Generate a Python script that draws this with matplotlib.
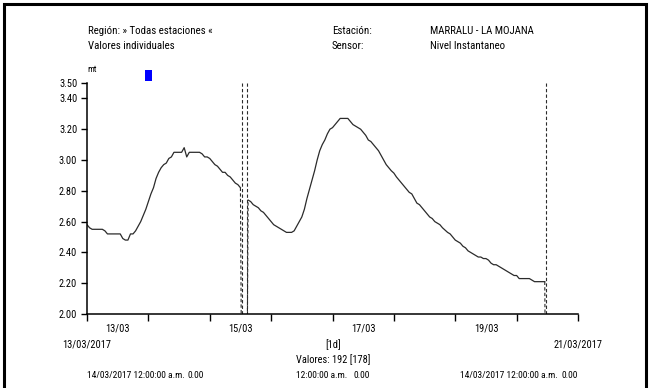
import numpy as np
import matplotlib
matplotlib.use("Agg")
import matplotlib.pyplot as plt
from matplotlib.patches import Rectangle

plt.rcParams['font.family'] = ['Roboto Condensed', 'Liberation Sans', 'DejaVu Sans']

# nivel instantaneo (mt), un valor por hora desde 13/03/2017 00:00, nan = sin dato
nivel = [
    2.58, 2.56, 2.55, 2.55, 2.55, 2.55, 2.55, 2.54, 2.52, 2.52,
    2.52, 2.52, 2.52, 2.52, 2.49, 2.48, 2.48, 2.52, 2.52, 2.54,
    2.57, 2.60, 2.64, 2.68, 2.73, 2.78, 2.82, 2.88, 2.92, 2.95,
    2.97, 2.98, 3.01, 3.02, 3.05, 3.05, 3.05, 3.05, 3.08, 3.02,
    3.05, 3.05, 3.05, 3.05, 3.05, 3.04, 3.02, 3.02, 3.01, 2.99,
    2.97, 2.96, 2.94, 2.92, 2.92, 2.90, 2.89, 2.87, 2.85, 2.84,
    2.82, np.nan, np.nan, 2.74, 2.73, 2.71, 2.70, 2.69, 2.67, 2.66,
    2.64, 2.62, 2.60, 2.58, 2.57, 2.56, 2.55, 2.54, 2.53, 2.53,
    2.53, 2.54, 2.57, 2.60, 2.63, 2.68, 2.75, 2.81, 2.87, 2.93,
    3.00, 3.06, 3.10, 3.13, 3.17, 3.20, 3.21, 3.23, 3.25, 3.27,
    3.27, 3.27, 3.27, 3.25, 3.23, 3.22, 3.21, 3.20, 3.18, 3.16,
    3.13, 3.12, 3.10, 3.08, 3.06, 3.03, 3.00, 2.97, 2.95, 2.93,
    2.915, 2.89, 2.87, 2.85, 2.83, 2.81, 2.79, 2.78, 2.75, 2.72,
    2.71, 2.69, 2.67, 2.65, 2.63, 2.62, 2.60, 2.59, 2.58, 2.56,
    2.545, 2.53, 2.52, 2.50, 2.48, 2.47, 2.46, 2.44, 2.43, 2.41,
    2.40, 2.39, 2.38, 2.37, 2.37, 2.36, 2.36, 2.35, 2.33, 2.32,
    2.32, 2.31, 2.30, 2.29, 2.28, 2.27, 2.26, 2.25, 2.25, 2.23,
    2.23, 2.23, 2.23, 2.23, 2.22, 2.21, 2.21, 2.21, 2.21, 2.21,
] + [np.nan] * 12
horas = np.arange(len(nivel))

yticks = [2.00, 2.20, 2.40, 2.60, 2.80, 3.00, 3.20, 3.40, 3.50]
dias = ['13/03', '15/03', '17/03', '19/03']
dias_horas = [12, 60, 108, 156]

W, H = 650, 388
fig = plt.figure(figsize=(W / 100, H / 100), dpi=100)

def fx(px):
    return px / W

def fy(py):
    return 1 - py / H

ax = fig.add_axes([fx(87), fy(314), fx(578) - fx(87), fy(83) - fy(314)])

y = np.array(nivel)
ax.plot(horas, y, color='#2b2b2b', lw=0.9)

# huecos: lineas discontinuas hacia cero y marcas verticales
dash = dict(color='#2b2b2b', lw=0.8, ls=(0, (3, 2)))
falta = np.isnan(y)
for i in range(1, len(y)):
    if falta[i] and not falta[i - 1]:
        ax.plot([i - 1, i], [y[i - 1], 0], **dash)
        ax.axvline(i - 0.5, **dash)
    if not falta[i] and falta[i - 1]:
        ax.plot([i - 1, i], [0, y[i]], **dash)
        ax.axvline(i - 0.5, **dash)

ax.set_xlim(0, 192)
ax.set_ylim(2.0, 3.5)
for s in ['top', 'right']:
    ax.spines[s].set_visible(False)
for s in ['left', 'bottom']:
    ax.spines[s].set_linewidth(1.1)

ax.set_yticks(yticks)
ax.set_yticklabels(['%.2f' % v for v in yticks], fontsize=7.5)
ax.tick_params(axis='y', length=4, width=1, pad=3)
ax.set_xticks(np.arange(0, 193, 24))
ax.set_xticklabels([])
ax.tick_params(axis='x', which='major', length=5, width=1)
ax.set_xticks(dias_horas, minor=True)
ax.set_xticklabels(dias, minor=True, fontsize=7.5)
ax.tick_params(axis='x', which='minor', length=0, pad=7)

tk = dict(fontsize=7.8, va='center')
fig.text(fx(88), fy(31), 'Región: » Todas estaciones «', **tk)
fig.text(fx(88), fy(46), 'Valores individuales', **tk)
fig.text(fx(332), fy(31), 'Estación:', **tk)
fig.text(fx(332), fy(46), 'Sensor:', **tk)
fig.text(fx(430), fy(31), 'MARRALU - LA MOJANA', **tk)
fig.text(fx(430), fy(46), 'Nivel Instantaneo', **tk)
fig.text(fx(87), fy(70), 'mt', fontsize=6.5, va='center')
fig.patches.append(Rectangle((fx(145), fy(81)), fx(7), 11 / H, transform=fig.transFigure,
                             facecolor='#0000ff', edgecolor='none'))

bt = dict(fontsize=7.5, va='center', ha='center')
fig.text(fx(87), fy(345), '13/03/2017', **bt)
fig.text(fx(578), fy(345), '21/03/2017', **bt)
fig.text(fx(333), fy(345), '[1d]', **bt)
fig.text(fx(333), fy(360), 'Valores: 192 [178]', **bt)

pie = dict(fontsize=6.8, va='center')
fig.text(fx(87), fy(375), '14/03/2017 12:00:00 a.m.', ha='left', **pie)
fig.text(fx(204), fy(375), '0.00', ha='right', **pie)
fig.text(fx(296), fy(375), '12:00:00 a.m.', ha='left', **pie)
fig.text(fx(370), fy(375), '0.00', ha='right', **pie)
fig.text(fx(460), fy(375), '14/03/2017 12:00:00 a.m.', ha='left', **pie)
fig.text(fx(578), fy(375), '0.00', ha='right', **pie)

# marco
fig.patches.append(Rectangle((fx(4), fy(400)), fx(642), 396 / H, transform=fig.transFigure,
                             facecolor='none', edgecolor='black', lw=2.2))

fig.savefig('out.png', dpi=100)
